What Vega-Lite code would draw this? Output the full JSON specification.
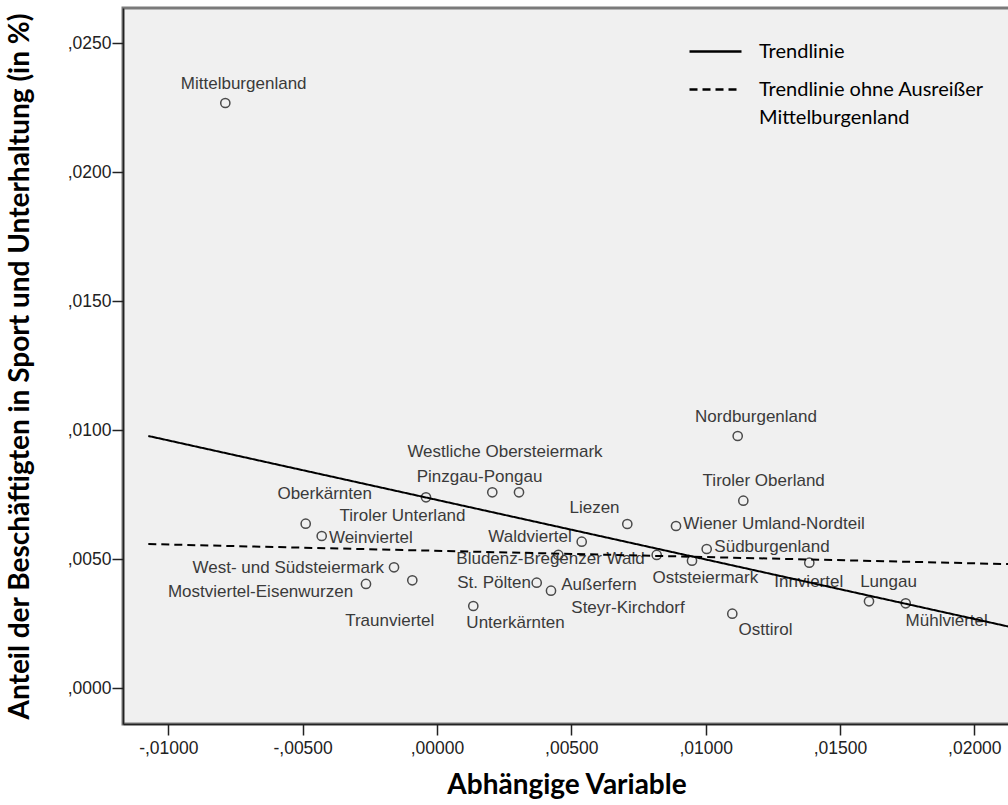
{
  "$schema": "https://vega.github.io/schema/vega-lite/v6.json",
  "width": 887,
  "height": 716,
  "autosize": {"type": "none"},
  "padding": {"left": 123, "top": 8, "right": 0, "bottom": 81},
  "background": "white",
  "config": {
    "view": {"fill": "#f0f0f0", "stroke": "#7a7a7a", "strokeWidth": 3},
    "style": {"guide-label": {"lineHeight": 28}}
  },
  "datasets": {
    "regions": [
      {"name": "Mittelburgenland", "x": -0.007878, "y": 0.022686, "lx": -0.007194, "ly": 0.023422},
      {"name": "Nordburgenland", "x": 0.011193, "y": 0.009779, "lx": 0.011874, "ly": 0.010527},
      {"name": "Tiroler Oberland", "x": 0.011402, "y": 0.007271, "lx": 0.012161, "ly": 0.008035},
      {"name": "Lungau", "x": 0.01608, "y": 0.003372, "lx": 0.016806, "ly": 0.004109},
      {"name": "Mühlviertel", "x": 0.017446, "y": 0.003295, "lx": 0.018972, "ly": 0.00262},
      {"name": "Osttirol", "x": 0.010992, "y": 0.002891, "lx": 0.012228, "ly": 0.00226},
      {"name": "Pinzgau-Pongau", "x": 0.002059, "y": 0.007597, "lx": 0.001583, "ly": 0.008178},
      {"name": "Westliche Obersteiermark", "x": 0.003053, "y": 0.007597, "lx": 0.002532, "ly": 0.009159},
      {"name": "Oberkärnten", "x": -0.004886, "y": 0.00638, "lx": -0.004179, "ly": 0.007531},
      {"name": "Tiroler Unterland", "x": -0.000408, "y": 0.007403, "lx": -0.001283, "ly": 0.006678},
      {"name": "Weinviertel", "x": -0.00429, "y": 0.005903, "lx": -0.002463, "ly": 0.005814},
      {"name": "West- und Südsteiermark", "x": -0.001599, "y": 0.00469, "lx": -0.005534, "ly": 0.004651},
      {"name": "Traunviertel", "x": -0.000918, "y": 0.004186, "lx": -0.001759, "ly": 0.002609},
      {"name": "Mostviertel-Eisenwurzen", "x": -0.002642, "y": 0.004043, "lx": -0.006568, "ly": 0.003744},
      {"name": "Unterkärnten", "x": 0.001352, "y": 0.00319, "lx": 0.002923, "ly": 0.002543},
      {"name": "St. Pölten", "x": 0.003712, "y": 0.004093, "lx": 0.002123, "ly": 0.004093},
      {"name": "Außerfern", "x": 0.004244, "y": 0.003783, "lx": 0.006031, "ly": 0.004004},
      {"name": "Bludenz-Bregenzer Wald", "x": 0.004516, "y": 0.005167, "lx": 0.004226, "ly": 0.005023},
      {"name": "Waldviertel", "x": 0.005387, "y": 0.005682, "lx": 0.003463, "ly": 0.005876},
      {"name": "Liezen", "x": 0.007084, "y": 0.006368, "lx": 0.005864, "ly": 0.007},
      {"name": "Steyr-Kirchdorf", "x": 0.008178, "y": 0.005167, "lx": 0.00711, "ly": 0.003101},
      {"name": "Wiener Umland-Nordteil", "x": 0.008897, "y": 0.006291, "lx": 0.012544, "ly": 0.006357},
      {"name": "Oststeiermark", "x": 0.009492, "y": 0.004946, "lx": 0.009987, "ly": 0.004264},
      {"name": "Südburgenland", "x": 0.010039, "y": 0.005399, "lx": 0.01247, "ly": 0.005488},
      {"name": "Innviertel", "x": 0.013858, "y": 0.004868, "lx": 0.013836, "ly": 0.004132}
    ],
    "trend": [
      {"series": "Trendlinie", "x": -0.010744, "y": 0.00978},
      {"series": "Trendlinie", "x": 0.02133, "y": 0.00238},
      {"series": "Trendlinie ohne Ausreißer Mittelburgenland", "x": -0.010744, "y": 0.00559},
      {"series": "Trendlinie ohne Ausreißer Mittelburgenland", "x": 0.02133, "y": 0.004812}
    ]
  },
  "layer": [
    {
      "data": {"name": "regions"},
      "mark": {"type": "point", "shape": "circle", "filled": false, "size": 85, "stroke": "#4a4a4a", "strokeWidth": 1.5, "opacity": 1},
      "encoding": {
        "x": {
          "field": "x", "type": "quantitative",
          "title": "Abhängige Variable",
          "scale": {"domain": [-0.011686, 0.021328], "nice": false, "zero": false},
          "axis": {
            "values": [-0.01, -0.005, 0, 0.005, 0.01, 0.015, 0.02],
            "labelExpr": "replace(replace(format(datum.value, '.5f'), '0.', ','), '\u2212', '-')",
            "grid": false,
            "domainColor": "#222222", "domainWidth": 1.5,
            "tickColor": "#222222", "tickWidth": 1.5, "tickSize": 11,
            "labelFont": "Liberation Sans", "labelFontSize": 17.5, "labelColor": "#222222",
            "labelPadding": 4,
            "titleFont": "Lato", "titleFontWeight": "bold", "titleFontSize": 28, "titleColor": "#000000",
            "titlePadding": 15
          }
        },
        "y": {
          "field": "y", "type": "quantitative",
          "title": "Anteil der Beschäftigten in Sport und Unterhaltung (in %)",
          "scale": {"domain": [-0.001384, 0.026368], "nice": false, "zero": false},
          "axis": {
            "values": [0, 0.005, 0.01, 0.015, 0.02, 0.025],
            "labelExpr": "replace(format(datum.value, '.4f'), '0.', ',')",
            "grid": false,
            "domainColor": "#222222", "domainWidth": 1.5,
            "tickColor": "#222222", "tickWidth": 1.5, "tickSize": 11,
            "labelFont": "Liberation Sans", "labelFontSize": 17.5, "labelColor": "#222222",
            "labelPadding": 1,
            "titleFont": "Lato", "titleFontWeight": "bold", "titleFontSize": 28, "titleColor": "#000000",
            "titlePadding": 33
          }
        }
      }
    },
    {
      "data": {"name": "regions"},
      "mark": {"type": "text", "font": "Liberation Sans", "fontSize": 17, "color": "#3a3a3a", "align": "center", "baseline": "middle"},
      "encoding": {
        "x": {"field": "lx", "type": "quantitative", "title": "Abhängige Variable"},
        "y": {"field": "ly", "type": "quantitative", "title": "Anteil der Beschäftigten in Sport und Unterhaltung (in %)"},
        "text": {"field": "name"}
      }
    },
    {
      "data": {"name": "trend"},
      "mark": {"type": "line", "color": "black", "strokeWidth": 2, "clip": true},
      "encoding": {
        "x": {"field": "x", "type": "quantitative", "title": "Abhängige Variable"},
        "y": {"field": "y", "type": "quantitative", "title": "Anteil der Beschäftigten in Sport und Unterhaltung (in %)"},
        "strokeDash": {
          "field": "series", "type": "nominal",
          "scale": {"domain": ["Trendlinie", "Trendlinie ohne Ausreißer Mittelburgenland"], "range": [[1, 0], [8, 5]]},
          "legend": {
            "orient": "none",
            "legendX": 565,
            "legendY": 16,
            "title": null,
            "symbolType": "stroke",
            "symbolSize": 2704,
            "symbolStrokeWidth": 2.5,
            "symbolStrokeColor": "black",
            "labelFont": "Lato",
            "labelFontSize": 20,
            "labelColor": "#000000",
            "labelOffset": 16,
            "labelLimit": 400,
            "rowPadding": -1.5,
            "labelExpr": "datum.label == 'Trendlinie' ? 'Trendlinie' : ['Trendlinie ohne Ausreißer', 'Mittelburgenland']"
          }
        }
      }
    }
  ]
}
